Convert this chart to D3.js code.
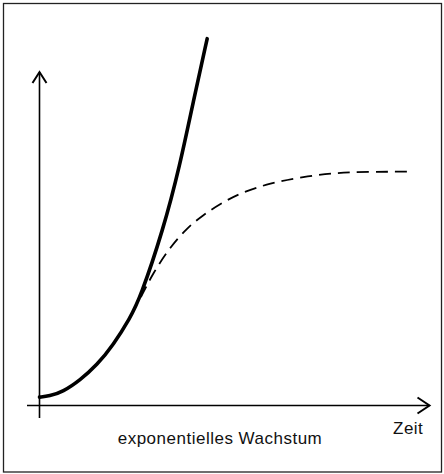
<!DOCTYPE html>
<html>
<head>
<meta charset="utf-8">
<script src="https://cdn.jsdelivr.net/npm/d3@7"></script>
<style>
  html, body { margin: 0; padding: 0; background: #fff; }
  svg { display: block; }
  text { font-family: "Liberation Sans", Arial, sans-serif; fill: #111; }
</style>
</head>
<body>
<svg id="chart" width="444" height="474"></svg>
<script>
// exponential growth (solid) and limited growth (dashed), time in arbitrary units
const expTime = [0, 0.25, 0.6, 1.04, 1.47, 1.89, 2.32, 2.58, 3.17, 3.6, 3.94, 4.3];
const expValue = [2.5, 2.8, 4.1, 7.6, 12.1, 18.1, 26.2, 32.2, 52.6, 72.0, 91.0, 110];
const logTime = [2.6, 2.91, 3.35, 3.78, 4.19, 4.63, 5.14, 5.91, 6.76, 7.63, 8.47, 9.42];
const logValue = [32.5, 39.7, 47.5, 53.2, 57.1, 60.4, 63.7, 66.7, 68.6, 69.8, 70.1, 70.1];
const xLabel = 'Zeit';
const caption = 'exponentielles Wachstum';

const svg = d3.select('#chart');

const x = d3.scaleLinear().domain([0, 10]).range([39.5, 429.5]);
const y = d3.scaleLinear().domain([0, 100]).range([405.5, 72]);

// frame
svg.append('rect')
    .attr('x', 3.5).attr('y', 3.5)
    .attr('width', 438).attr('height', 468.5)
    .attr('fill', 'none')
    .attr('stroke', '#222')
    .attr('stroke-width', 1.3);

// axes with open arrow heads
const axes = svg.append('g')
    .attr('fill', 'none')
    .attr('stroke', '#000')
    .attr('stroke-width', 1.6);
axes.append('line')
    .attr('x1', x(0)).attr('x2', x(0))
    .attr('y1', 418).attr('y2', y(100));
axes.append('path')
    .attr('d', `M${x(0) - 7},${y(100) + 11}L${x(0)},${y(100)}L${x(0) + 7},${y(100) + 11}`)
    .attr('stroke-width', 2);
axes.append('line')
    .attr('x1', 27).attr('x2', x(10))
    .attr('y1', y(0)).attr('y2', y(0));
axes.append('path')
    .attr('d', `M${x(10) - 12},${y(0) - 8}L${x(10)},${y(0)}L${x(10) - 12},${y(0) + 8}`)
    .attr('stroke-width', 2);

const line = d3.line()
    .x(d => x(d[0]))
    .y(d => y(d[1]))
    .curve(d3.curveBasis);

svg.append('path')
    .datum(logTime.map((t, i) => [t, logValue[i]]))
    .attr('d', line)
    .attr('fill', 'none')
    .attr('stroke', '#000')
    .attr('stroke-width', 1.8)
    .attr('stroke-dasharray', '12,7');

svg.append('path')
    .datum(expTime.map((t, i) => [t, expValue[i]]))
    .attr('d', line)
    .attr('fill', 'none')
    .attr('stroke', '#000')
    .attr('stroke-width', 3.6)
    .attr('stroke-linecap', 'round');

svg.append('text')
    .attr('x', 393).attr('y', 433.5)
    .style('font-size', '17px')
    .style('letter-spacing', '0.5px')
    .text(xLabel);

svg.append('text')
    .attr('x', 220).attr('y', 443.5)
    .attr('text-anchor', 'middle')
    .style('font-size', '17px')
    .style('letter-spacing', '0.5px')
    .text(caption);
</script>
</body>
</html>
